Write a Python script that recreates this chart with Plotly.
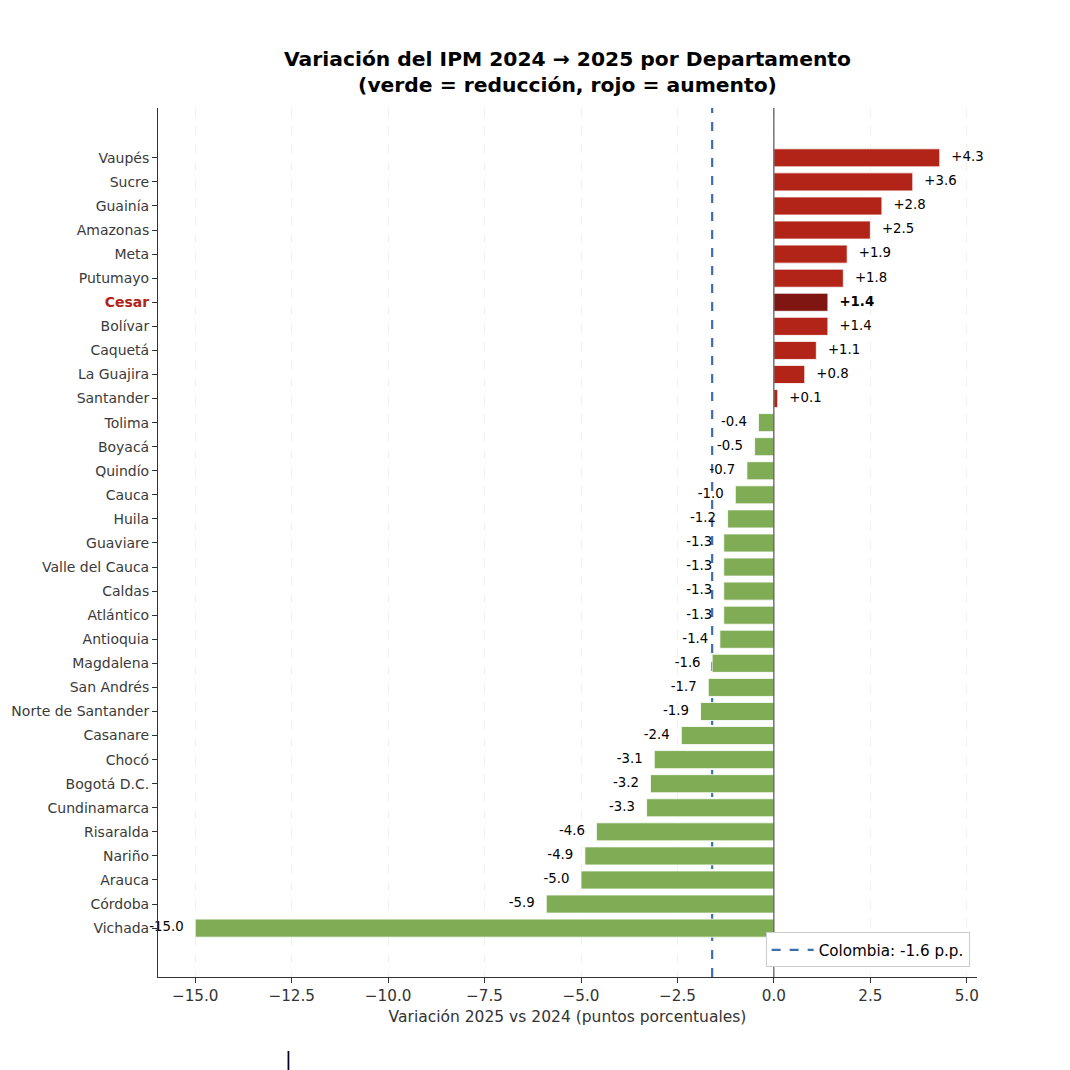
import plotly.graph_objects as go

departamentos = ["Vaupés", "Sucre", "Guainía", "Amazonas", "Meta", "Putumayo", "Cesar", "Bolívar",
                 "Caquetá", "La Guajira", "Santander", "Tolima", "Boyacá", "Quindío", "Cauca", "Huila",
                 "Guaviare", "Valle del Cauca", "Caldas", "Atlántico", "Antioquia", "Magdalena",
                 "San Andrés", "Norte de Santander", "Casanare", "Chocó", "Bogotá D.C.", "Cundinamarca",
                 "Risaralda", "Nariño", "Arauca", "Córdoba", "Vichada"]
variacion = [4.3, 3.6, 2.8, 2.5, 1.9, 1.8, 1.4, 1.4, 1.1, 0.8, 0.1, -0.4, -0.5, -0.7, -1.0, -1.2,
             -1.3, -1.3, -1.3, -1.3, -1.4, -1.6, -1.7, -1.9, -2.4, -3.1, -3.2, -3.3, -4.6, -4.9,
             -5.0, -5.9, -15.0]
destacado = "Cesar"
colombia = -1.6
xticks = [-15.0, -12.5, -10.0, -7.5, -5.0, -2.5, 0.0, 2.5, 5.0]

RED = "#b22418"
DARK_RED = "#7f1611"
GREEN = "#7fac55"
BLUE = "#3b6fae"
FONT = "DejaVu Sans"

colors = []
for d, v in zip(departamentos, variacion):
    if d == destacado:
        colors.append(DARK_RED)
    elif v > 0:
        colors.append(RED)
    else:
        colors.append(GREEN)

fig = go.Figure()

fig.add_trace(go.Bar(
    x=variacion, y=departamentos, orientation="h",
    marker=dict(color=colors, line=dict(color="white", width=0.8)),
    width=0.75, showlegend=False, hoverinfo="skip",
))

# value labels
off = 0.3
lab_x = [v + off if v > 0 else v - off for v in variacion]
lab_t = []
for d, v in zip(departamentos, variacion):
    s = f"{v:+.1f}" if v > 0 else f"{v:.1f}"
    lab_t.append(f"<b>{s}</b>" if d == destacado else s)
pos_mask = [v > 0 for v in variacion]
fig.add_trace(go.Scatter(
    x=[x for x, m in zip(lab_x, pos_mask) if m],
    y=[d for d, m in zip(departamentos, pos_mask) if m],
    text=[t for t, m in zip(lab_t, pos_mask) if m],
    mode="text", textposition="middle right",
    textfont=dict(family=FONT, size=13.3, color="black"),
    showlegend=False, hoverinfo="skip", cliponaxis=False,
))
fig.add_trace(go.Scatter(
    x=[x for x, m in zip(lab_x, pos_mask) if not m],
    y=[d for d, m in zip(departamentos, pos_mask) if not m],
    text=[t for t, m in zip(lab_t, pos_mask) if not m],
    mode="text", textposition="middle left",
    textfont=dict(family=FONT, size=13.3, color="black"),
    showlegend=False, hoverinfo="skip", cliponaxis=False,
))

# legend entry for national line
fig.add_trace(go.Scatter(
    x=[None], y=[None], mode="lines",
    line=dict(color=BLUE, width=2.2, dash="dash"),
    name=f"Colombia: {colombia:.1f} p.p.",
))

fig.add_shape(type="line", xref="x", yref="paper", x0=colombia, x1=colombia, y0=0, y1=1,
              line=dict(color=BLUE, width=2.2, dash="dash"), layer="below")
fig.add_shape(type="line", xref="x", yref="paper", x0=0, x1=0, y0=0, y1=1,
              line=dict(color="#333333", width=1), layer="above")

ticktext_y = [f"<b><span style='color:{RED}'>{d}</span></b>" if d == destacado else d
              for d in departamentos]

fig.update_layout(
    width=1070, height=1070,
    margin=dict(l=150, r=101, t=100, b=101),
    paper_bgcolor="white", plot_bgcolor="white",
    font=dict(family=FONT, color="#333333"),
    title=dict(
        text="<b>Variación del IPM 2024 → 2025 por Departamento<br>(verde = reducción, rojo = aumento)</b>",
        x=0.5229, xanchor="center", y=0.9457, yanchor="middle",
        font=dict(family=FONT, size=20.3, color="black"),
    ),
    xaxis=dict(
        range=[-15.965, 5.265], tickvals=xticks,
        ticktext=[f"{t:.1f}".replace("-", "\u2212") for t in xticks],
        showgrid=True, gridcolor="rgba(205,205,205,0.3)", griddash="dash", gridwidth=1,
        zeroline=False, showline=True, linecolor="#333333", linewidth=1,
        ticks="outside", ticklen=5, tickcolor="#333333",
        tickfont=dict(family=FONT, size=15.2, color="#333333"),
        title=dict(text="Variación 2025 vs 2024 (puntos porcentuales)",
                   font=dict(family=FONT, size=15.5, color="#333333"), standoff=6),
        layer="above traces", automargin=False,
    ),
    yaxis=dict(
        type="category", categoryorder="array", categoryarray=departamentos,
        tickvals=departamentos, ticktext=ticktext_y,
        range=[34.03, -2.07], showgrid=False, zeroline=False,
        showline=True, linecolor="#333333", linewidth=1,
        ticks="outside", ticklen=5, tickcolor="#333333",
        tickfont=dict(family=FONT, size=14, color="#3a3a3a"),
        automargin=False,
    ),
    legend=dict(
        x=0.991, y=0.011, xanchor="right", yanchor="bottom",
        bgcolor="white", bordercolor="#cccccc", borderwidth=1,
        itemwidth=42,
        font=dict(family=FONT, size=15.2, color="black"),
    ),
    annotations=[dict(text="|", xref="paper", yref="paper", x=0.153, y=-0.11,
                      showarrow=False, font=dict(family=FONT, size=20, color="black"))],
)

fig.write_html("out.html")
